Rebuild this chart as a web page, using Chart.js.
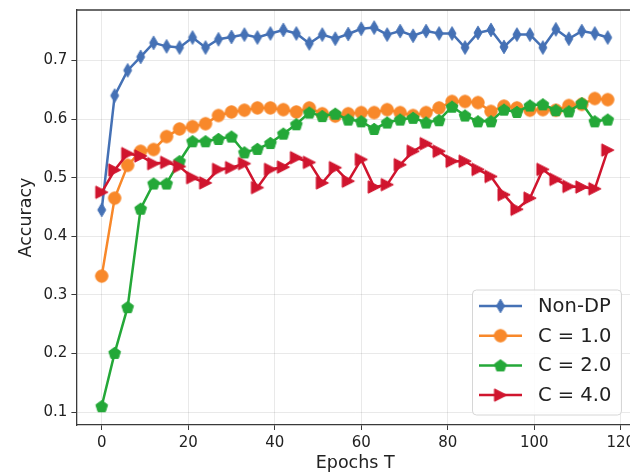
<!DOCTYPE html>
<html>
<head>
<meta charset="utf-8">
<script src="https://cdn.jsdelivr.net/npm/chart.js@4.4.1/dist/chart.umd.min.js"></script>
<style>
  html, body { margin: 0; padding: 0; background: #fff; overflow: hidden; }
  #marco { width: 630px; height: 476px; overflow: hidden; }
</style>
</head>
<body>
<div id="marco"><canvas id="grafico" width="645" height="476"></canvas></div>
<script>
// Epochs (one evaluation every 3 epochs)
const epocas = [0, 3, 6, 9, 12, 15, 18, 21, 24, 27, 30, 33, 36, 39, 42, 45, 48, 51, 54, 57,
                60, 63, 66, 69, 72, 75, 78, 81, 84, 87, 90, 93, 96, 99, 102, 105, 108, 111, 114, 117];

const nombres = ["Non-DP", "C = 1.0", "C = 2.0", "C = 4.0"];

const accNoDP = [0.445, 0.640, 0.683, 0.706, 0.730, 0.724, 0.722, 0.739, 0.722, 0.736,
                 0.740, 0.744, 0.739, 0.746, 0.752, 0.746, 0.729, 0.744, 0.737, 0.745,
                 0.754, 0.756, 0.744, 0.750, 0.742, 0.750, 0.746, 0.746, 0.722, 0.747,
                 0.752, 0.723, 0.744, 0.744, 0.722, 0.753, 0.737, 0.750, 0.746, 0.739];

const accC1 = [0.332, 0.465, 0.521, 0.545, 0.548, 0.570, 0.583, 0.587, 0.592, 0.606,
               0.612, 0.615, 0.619, 0.619, 0.616, 0.612, 0.619, 0.609, 0.605, 0.609,
               0.611, 0.611, 0.616, 0.611, 0.606, 0.611, 0.619, 0.630, 0.630, 0.628,
               0.613, 0.622, 0.619, 0.615, 0.616, 0.615, 0.623, 0.625, 0.635, 0.633];

const accC2 = [0.110, 0.201, 0.279, 0.447, 0.490, 0.490, 0.528, 0.562, 0.562, 0.566,
               0.570, 0.543, 0.549, 0.559, 0.575, 0.591, 0.611, 0.605, 0.609, 0.599,
               0.596, 0.583, 0.594, 0.599, 0.602, 0.594, 0.598, 0.621, 0.606, 0.596,
               0.596, 0.616, 0.612, 0.623, 0.625, 0.615, 0.613, 0.627, 0.596, 0.599];

const accC4 = [0.475, 0.513, 0.541, 0.537, 0.524, 0.526, 0.519, 0.500, 0.491, 0.514,
               0.517, 0.524, 0.483, 0.514, 0.518, 0.534, 0.526, 0.491, 0.517, 0.494,
               0.531, 0.484, 0.488, 0.522, 0.545, 0.558, 0.545, 0.528, 0.528, 0.514,
               0.502, 0.471, 0.446, 0.465, 0.514, 0.497, 0.485, 0.484, 0.481, 0.547];

const ticksX = [0, 20, 40, 60, 80, 100, 120];
const ticksY = [0.1, 0.2, 0.3, 0.4, 0.5, 0.6, 0.7];

const colores = ["#4571b5", "#f8882a", "#24a838", "#d0152e"];
const FUENTE = "'DejaVu Sans', sans-serif";

// Marcadores dibujados en un canvas pequeño
function crearMarcador(tipo, color) {
    const c = document.createElement("canvas");
    c.width = 16; c.height = 16;
    const g = c.getContext("2d");
    const cx = 8, cy = 8;
    g.fillStyle = color;
    g.strokeStyle = color;
    g.lineWidth = 1;
    g.beginPath();
    if (tipo === "diamante") {
        g.moveTo(cx, cy - 6.8);
        g.lineTo(cx + 4, cy);
        g.lineTo(cx, cy + 6.8);
        g.lineTo(cx - 4, cy);
        g.closePath();
    } else if (tipo === "circulo") {
        g.arc(cx, cy, 6.2, 0, Math.PI * 2);
    } else if (tipo === "pentagono") {
        for (let k = 0; k < 5; k++) {
            const a = -Math.PI / 2 + k * 2 * Math.PI / 5;
            const px = cx + 6.2 * Math.cos(a), py = cy + 0.5 + 6.2 * Math.sin(a);
            if (k === 0) g.moveTo(px, py); else g.lineTo(px, py);
        }
        g.closePath();
    } else if (tipo === "triangulo") {
        g.moveTo(cx + 6.2, cy);
        g.lineTo(cx - 6, cy - 6.2);
        g.lineTo(cx - 6, cy + 6.2);
        g.closePath();
    }
    g.fill();
    g.stroke();
    return c;
}

const marcadores = [
    crearMarcador("diamante", colores[0]),
    crearMarcador("circulo", colores[1]),
    crearMarcador("pentagono", colores[2]),
    crearMarcador("triangulo", colores[3])
];

const series = [accNoDP, accC1, accC2, accC4];

const datasets = series.map((serie, i) => ({
    label: nombres[i],
    data: epocas.map((e, j) => ({ x: e, y: serie[j] })),
    borderColor: colores[i],
    backgroundColor: colores[i],
    borderWidth: 2.5,
    pointStyle: marcadores[i],
    pointRadius: 6,
    tension: 0,
    order: 4 - i   // la última serie queda encima
}));

// Marco superior del área del gráfico
const marcoSuperior = {
    id: "marcoSuperior",
    afterDraw(chart) {
        const { ctx, chartArea } = chart;
        ctx.save();
        ctx.strokeStyle = "#3a3a3a";
        ctx.lineWidth = 1.3;
        ctx.beginPath();
        ctx.moveTo(chartArea.left, chartArea.top);
        ctx.lineTo(chartArea.right, chartArea.top);
        ctx.stroke();
        ctx.restore();
    }
};

// Leyenda con línea + marcador
const leyenda = {
    id: "leyenda",
    afterDraw(chart) {
        const ctx = chart.ctx;
        const x0 = 472.5, y0 = 290, w = 149, h = 125, r = 4;
        ctx.save();
        ctx.fillStyle = "rgba(255,255,255,0.85)";
        ctx.strokeStyle = "#d6d6d6";
        ctx.lineWidth = 1;
        ctx.beginPath();
        ctx.roundRect(x0, y0, w, h, r);
        ctx.fill();
        ctx.stroke();

        ctx.font = "19.5px " + FUENTE;
        ctx.textBaseline = "middle";
        ctx.fillStyle = "#222";
        chart.data.datasets.forEach((ds, i) => {
            const fy = 306 + i * 29.7;
            ctx.strokeStyle = ds.borderColor;
            ctx.lineWidth = 2.5;
            ctx.beginPath();
            ctx.moveTo(479, fy);
            ctx.lineTo(522, fy);
            ctx.stroke();
            const m = ds.pointStyle;
            ctx.drawImage(m, 500.5 - m.width / 2, fy - m.height / 2);
            ctx.fillText(ds.label, 538, fy + 1);
        });
        ctx.restore();
    }
};

const ejeComun = {
    grid: { color: "rgba(0,0,0,0.085)", lineWidth: 1, tickColor: "#3a3a3a", tickLength: 5 },
    border: { color: "#3a3a3a", width: 1.3 }
};

new Chart(document.getElementById("grafico").getContext("2d"), {
    type: "line",
    data: { datasets: datasets },
    options: {
        responsive: false,
        animation: false,
        devicePixelRatio: 1,
        layout: { padding: { top: 10, left: 0, right: 11, bottom: 0 } },
        plugins: { legend: { display: false }, tooltip: { enabled: false } },
        scales: {
            x: {
                type: "linear",
                min: -5.85,
                max: 123.07,
                ...ejeComun,
                afterBuildTicks: s => { s.ticks = ticksX.map(v => ({ value: v })); },
                afterFit: s => { s.height = 51; s.paddingLeft = 0; s.paddingRight = 0; },
                ticks: {
                    autoSkip: false, maxRotation: 0, padding: 4,
                    color: "#222", font: { family: FUENTE, size: 15 },
                    callback: v => v
                },
                title: {
                    display: true, text: "Epochs T", color: "#222",
                    font: { family: FUENTE, size: 17.5 }, padding: { top: 0, bottom: 2 }
                }
            },
            y: {
                min: 0.078,
                max: 0.786,
                ...ejeComun,
                afterBuildTicks: s => { s.ticks = ticksY.map(v => ({ value: v })); },
                afterFit: s => { s.width = 76.4; s.paddingTop = 0; s.paddingBottom = 0; },
                ticks: {
                    autoSkip: false, padding: 4,
                    color: "#222", font: { family: FUENTE, size: 15 },
                    callback: v => v.toFixed(1)
                },
                title: {
                    display: true, text: "Accuracy", color: "#222",
                    font: { family: FUENTE, size: 17.5 }, padding: { top: 15.5, bottom: 0 }
                }
            }
        }
    },
    plugins: [marcoSuperior, leyenda]
});
</script>
</body>
</html>
